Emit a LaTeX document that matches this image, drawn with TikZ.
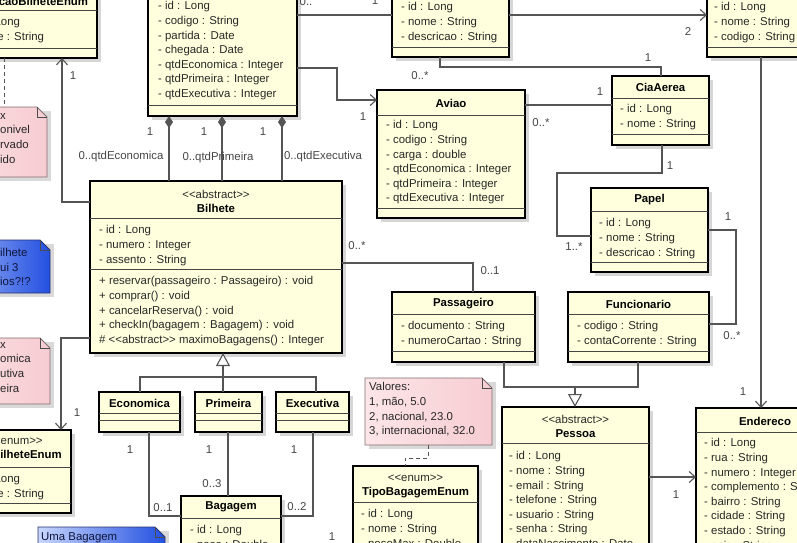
\documentclass[tikz,border=0pt]{standalone}
\usepackage{fontspec}
\setmainfont{Liberation Sans}[Ligatures=TeXOff]
\usetikzlibrary{arrows.meta,shadows}
\definecolor{clsfill}{RGB}{255,255,221}
\definecolor{sepc}{RGB}{70,70,70}
\definecolor{linec}{RGB}{85,85,85}
\definecolor{txtc}{RGB}{40,40,40}
\definecolor{lblc}{RGB}{70,70,70}
\definecolor{pinkl}{RGB}{253,230,232}
\definecolor{pinkf}{RGB}{246,204,210}
\definecolor{pinkd}{RGB}{130,110,112}
\definecolor{bluel}{RGB}{200,215,252}
\definecolor{blued}{RGB}{35,80,225}
\definecolor{bluedraw}{RGB}{40,50,110}
\definecolor{bluetxt}{RGB}{15,20,60}
\newcommand\attrfont{\fontsize{11.4}{14.6}\selectfont}
\newcommand\ttlfont{\fontsize{11.4}{14.6}\selectfont\bfseries}
\tikzset{
  cls/.style={draw=black, line width=2.2pt, fill=clsfill, inner sep=0pt, outer sep=0pt, rectangle,
    drop shadow={shadow xshift=3.5pt, shadow yshift=-3.5pt, fill=black!16, opacity=1}},
  sepl/.style={draw=sepc, line width=0.9pt},
  txt/.style={font=\attrfont, inner sep=0pt, anchor=north west, align=left, text=txtc},
  ttl/.style={font=\ttlfont, inner sep=0pt, anchor=center, text=black},
  stereo/.style={font=\attrfont, inner sep=0pt, anchor=center, text=txtc},
  lbl/.style={font=\attrfont, inner sep=0pt, anchor=center, text=lblc},
  conn/.style={draw=linec, line width=1.1pt},
  arr/.style={conn, arrows={-Straight Barb[length=6pt,width=11pt]}},
  comp/.style={conn, arrows={Diamond[length=12pt,width=8pt,fill=linec]-}},
  gen/.style={conn, arrows={-Triangle[open,length=13pt,width=14pt,fill=white]}},
  notel/.style={draw=linec, line width=1pt, dash pattern=on 4pt off 3pt},
  pinknote/.style={draw=pinkd, line width=0.8pt, left color=pinkl, right color=pinkf},
  bluenote/.style={draw=bluedraw, line width=0.8pt, left color=bluel, right color=blued},
  foldl/.style={draw=black!70, line width=0.8pt},
  ntxt/.style={font=\attrfont, inner sep=0pt, anchor=north west, align=left, text=txtc},
  bntxt/.style={font=\attrfont, inner sep=0pt, anchor=north west, align=left, text=bluetxt}
}
\newcommand\clsbox[5]{\node[cls, minimum width={(#4)-(#2)}, minimum height={(#5)-(#3)}, anchor=north west] (#1) at (#2,#3) {};}
\newcommand\clssep[2]{\draw[sepl] (#1.west |- 0,#2) -- (#1.east |- 0,#2);}
\newcommand\umlnote[6]{%
  \fill[black!15] ({#3+4},{#4+4}) rectangle ({#5+4},{#6+4});
  \path[#2] (#3,#4) -- ({#5-10},#4) -- (#5,{#4+10}) -- (#5,#6) -- (#3,#6) -- cycle;
  \draw[foldl] ({#5-10},#4) -- ({#5-10},{#4+10}) -- (#5,{#4+10});
  \coordinate (#1) at ({(#3+#5)/2},#6);
}
\begin{document}
\begin{tikzpicture}[x=1pt,y=-1pt]
\clip (0,0) rectangle (797,542);
\fill[white] (0,0) rectangle (797,542);

% ---------- notes ----------
\umlnote{n1}{pinknote}{-80}{107}{47}{177}
\node[ntxt] (n1t) at (0,113) {x\\onivel\\rvado\\ido};
\umlnote{n2}{bluenote}{-80}{240}{50}{293}
\node[bntxt] (n2t) at (0,248) {ilhete\\ui 3\\ios?!?};
\umlnote{n3}{pinknote}{-80}{338}{50}{404}
\node[ntxt] (n3t) at (0,342) {x\\omica\\utiva\\eira};
\umlnote{nv}{pinknote}{365}{378}{492}{445}
\node[ntxt] (nvt) at (369,382.5) {Valores:\\1, mão, 5.0\\2, nacional, 23.0\\3, internacional, 32.0};
\umlnote{nb}{bluenote}{38}{527}{165}{600}
\node[bntxt] (nbt) at (41,532.5) {Uma Bagagem};

% ---------- class boxes ----------
\clsbox{sit}{-38}{-30}{97}{58}
\clssep{sit}{10}\clssep{sit}{48}
\node[ttl] (sitn) at (sit.north |- 0,1) {SituacaoBilheteEnum};
\node[txt] (sita) at (-32,17.5) {- id : Long\\- nome : String};

\clsbox{voo}{148}{-80}{297}{116}
\clssep{voo}{105}
\node[txt] (vooa) at (158,1.5) {- id : Long\\- codigo : String\\- partida : Date\\- chegada : Date\\- qtdEconomica : Integer\\- qtdPrimeira : Integer\\- qtdExecutiva : Integer};

\clsbox{rota}{392}{-40}{509}{57}
\clssep{rota}{47}
\node[txt] (rotaa) at (401,2.5) {- id : Long\\- nome : String\\- descricao : String};

\clsbox{aero}{707}{-40}{834}{57}
\clssep{aero}{47}
\node[txt] (aeroa) at (714,2.5) {- id : Long\\- nome : String\\- codigo : String};

\clsbox{cia}{612}{76}{709}{145}
\clssep{cia}{98}\clssep{cia}{134}
\node[ttl] (cian) at (cia.north |- 0,87) {CiaAerea};
\node[txt] (ciaa) at (620,104.5) {- id : Long\\- nome : String};

\clsbox{aviao}{377}{90}{525}{218}
\clssep{aviao}{115}\clssep{aviao}{208}
\node[ttl] (aviaon) at (aviao.north |- 0,103) {Aviao};
\node[txt] (aviaoa) at (386,120.5) {- id : Long\\- codigo : String\\- carga : double\\- qtdEconomica : Integer\\- qtdPrimeira : Integer\\- qtdExecutiva : Integer};

\clsbox{papel}{591}{188}{708}{272}
\clssep{papel}{211}\clssep{papel}{262}
\node[ttl] (papeln) at (papel.north |- 0,200) {Papel};
\node[txt] (papela) at (599,218.5) {- id : Long\\- nome : String\\- descricao : String};

\clsbox{func}{568}{292}{709}{362}
\clssep{func}{314}\clssep{func}{351}
\node[ttl] (funcn) at (func.north |- 0,304) {Funcionario};
\node[txt] (funca) at (577,321.5) {- codigo : String\\- contaCorrente : String};

\clsbox{pass}{392}{292}{535}{362}
\clssep{pass}{314}\clssep{pass}{351}
\node[ttl] (passn) at (pass.north |- 0,304) {Passageiro};
\node[txt] (passa) at (401,321.5) {- documento : String\\- numeroCartao : String};

\clsbox{bil}{90}{181}{342}{353}
\clssep{bil}{218}\clssep{bil}{269}
\node[stereo] (bils) at (bil.north |- 0,194) {<<abstract>>};
\node[ttl] (biln) at (bil.north |- 0,208) {Bilhete};
\node[txt] (bila) at (99,225.5) {- id : Long\\- numero : Integer\\- assento : String};
\node[txt] (bilm) at (99,276.5) {+ reservar(passageiro : Passageiro) : void\\+ comprar() : void\\+ cancelarReserva() : void\\+ checkIn(bagagem : Bagagem) : void\\\# <<abstract>> maximoBagagens() : Integer};

\clsbox{econ}{99}{392}{180}{432}
\clssep{econ}{413}\clssep{econ}{420}
\node[ttl] (econn) at (econ.north |- 0,403) {Economica};
\clsbox{prim}{195}{392}{262}{432}
\clssep{prim}{413}\clssep{prim}{420}
\node[ttl] (primn) at (prim.north |- 0,403) {Primeira};
\clsbox{exec}{276}{392}{349}{432}
\clssep{exec}{413}\clssep{exec}{420}
\node[ttl] (execn) at (exec.north |- 0,403) {Executiva};

\clsbox{bag}{181}{496}{281}{620}
\clssep{bag}{518}
\node[ttl] (bagn) at (bag.north |- 0,507) {Bagagem};
\node[txt] (baga) at (190,525.5) {- id : Long\\- peso : Double};

\clsbox{tbil}{-41}{430}{71}{513}
\clssep{tbil}{467}\clssep{tbil}{503}
\node[stereo] (tbils) at (tbil.north |- 0,441) {<<enum>>};
\node[ttl] (tbiln) at (tbil.north |- 0,456) {TipoBilheteEnum};
\node[txt] (tbila) at (-32,474.5) {- id : Long\\- nome : String};

\clsbox{tbag}{353}{466}{478}{620}
\clssep{tbag}{502}
\node[stereo] (tbags) at (tbag.north |- 0,478) {<<enum>>};
\node[ttl] (tbagn) at (tbag.north |- 0,493) {TipoBagagemEnum};
\node[txt] (tbaga) at (361,509.5) {- id : Long\\- nome : String\\- pesoMax : Double};

\clsbox{pes}{502}{407}{649}{620}
\clssep{pes}{443}
\node[stereo] (pess) at (pes.north |- 0,419) {<<abstract>>};
\node[ttl] (pesn) at (pes.north |- 0,434) {Pessoa};
\node[txt] (pesa) at (509,451.5) {- id : Long\\- nome : String\\- email : String\\- telefone : String\\- usuario : String\\- senha : String\\- dataNascimento : Date};

\clsbox{end}{696}{408}{834}{620}
\clssep{end}{432}
\node[ttl] (endn) at (end.north |- 0,421) {Endereco};
\node[txt] (enda) at (704,438.5) {- id : Long\\- rua : String\\- numero : Integer\\- complemento : String\\- bairro : String\\- cidade : String\\- estado : String\\- pais : String};

% ---------- connectors ----------
\draw[comp] (voo.south -| 169,0) -- (bil.north -| 169,0);
\draw[comp] (voo.south -| 222,0) -- (bil.north -| 222,0);
\draw[comp] (voo.south -| 282,0) -- (bil.north -| 282,0);
\draw[arr] (bil.west |- 0,202) -| (sit.south -| 62,0);
\draw[arr] (bil.west |- 0,338) -| (tbil.north -| 61,0);
\draw[arr] (voo.east |- 0,68) -- (337,68) |- (aviao.west |- 0,100);
\draw[conn] (voo.east |- 0,15) -- (rota.west |- 0,15);
\draw[arr] (rota.east |- 0,15) -- (aero.west |- 0,15);
\draw[arr] (aero.south -| 761,0) -- (end.north -| 761,0);
\draw[conn] (rota.south -| 440,0) |- (661,67) -- (cia.north -| 661,0);
\draw[conn] (aviao.east |- 0,105) -- (cia.west |- 0,105);
\draw[conn] (cia.south -| 662,0) -- (662,173) -| (557,236) -- (papel.west |- 0,236);
\draw[conn] (papel.east |- 0,230) -| (736,324) -- (func.east |- 0,324);
\draw[conn] (bil.east |- 0,263) -| (pass.north -| 473,0);
\coordinate (gp) at (575,387);
\draw[conn] (pass.south -| 504,0) |- (gp) -| (func.south -| 638,0);
\draw[gen] (gp) -- (pes.north -| 575,0);
\coordinate (gb) at (223,377);
\draw[conn] (econ.north -| 140,0) |- (gb) -| (exec.north -| 316,0);
\draw[conn] (prim.north -| 223,0) -- (gb);
\draw[gen] (gb) -- (bil.south -| 223,0);
\draw[conn] (econ.south -| 149,0) |- (bag.west |- 0,516);
\draw[conn] (prim.south -| 228,0) -- (bag.north -| 228,0);
\draw[conn] (exec.south -| 313,0) |- (bag.east |- 0,516);
\draw[arr] (pes.east |- 0,477) -- (end.west |- 0,477);
\draw[notel] (nv -| 428,0) -- (428,458) -| (tbag.north -| 405,0);
\coordinate (n1top) at (4,107);
\draw[notel] (sit.south -| 4,0) -- (n1top);

% ---------- multiplicity labels ----------
\node[lbl] (l1) at (150,132) {1};
\node[lbl] (l2) at (204,132) {1};
\node[lbl] (l3) at (263,132) {1};
\node[lbl] (l4) at (121,157) {0..qtdEconomica};
\node[lbl] (l5) at (218,158) {0..qtdPrimeira};
\node[lbl] (l6) at (323,157) {0..qtdExecutiva};
\node[lbl] (l7) at (73,76) {1};
\node[lbl] (l8) at (306,2) {0..};
\node[lbl] (l9) at (375,1) {1};
\node[lbl] (l10) at (688,32) {2};
\node[lbl] (l11) at (363,117) {1};
\node[lbl] (l12) at (420,76) {0..*};
\node[lbl] (l13) at (648,58) {1};
\node[lbl] (l14) at (600,92) {1};
\node[lbl] (l15) at (541,123) {0..*};
\node[lbl] (l16) at (670,166) {1};
\node[lbl] (l17) at (574,247) {1..*};
\node[lbl] (l18) at (728,217) {1};
\node[lbl] (l19) at (732,336) {0..*};
\node[lbl] (l20) at (357,246) {0..*};
\node[lbl] (l21) at (490,271) {0..1};
\node[lbl] (l22) at (77,413) {1};
\node[lbl] (l23) at (130,450) {1};
\node[lbl] (l24) at (163,508) {0..1};
\node[lbl] (l25) at (209,450) {1};
\node[lbl] (l26) at (212,484) {0..3};
\node[lbl] (l27) at (294,450) {1};
\node[lbl] (l28) at (297,507) {0..2};
\node[lbl] (l29) at (332,537) {1};
\node[lbl] (l30) at (676,495) {1};
\node[lbl] (l31) at (743,392) {1};
\end{tikzpicture}
\end{document}
